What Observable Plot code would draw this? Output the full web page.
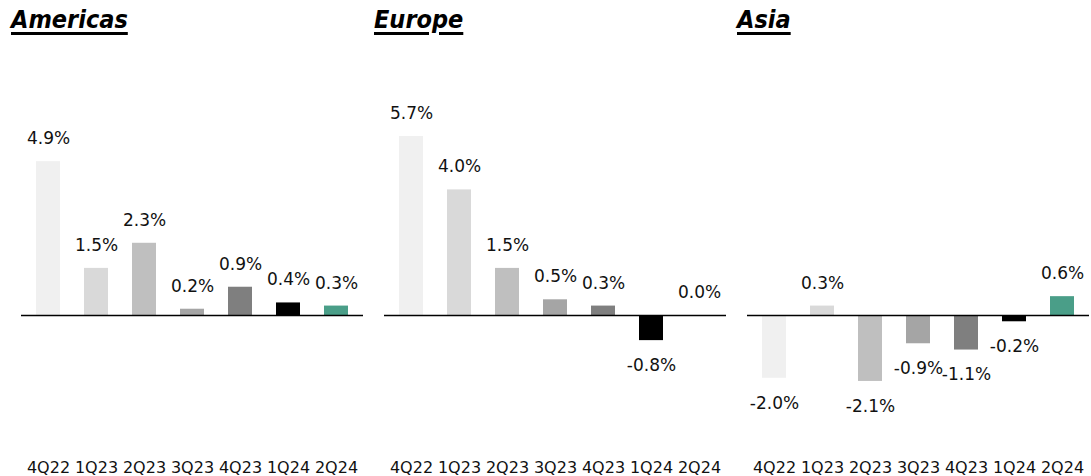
<!DOCTYPE html>
<html>
<head>
<meta charset="utf-8">
<script src="https://cdn.jsdelivr.net/npm/d3@7"></script>
<script src="https://cdn.jsdelivr.net/npm/@observablehq/plot@0.6"></script>
<style>
  html, body { margin: 0; padding: 0; background: #fff; }
  body { width: 1091px; height: 476px; overflow: hidden; font-family: "DejaVu Sans", sans-serif; }
  #wrap { display: flex; flex-direction: row; }
  .panel { width: 363px; flex: 0 0 363px; }
  .title { height: 44px; box-sizing: border-box; padding-top: 7px; padding-left: 11px; font-family: "DejaVu Sans Condensed", "DejaVu Sans", sans-serif; font-stretch: condensed; font-size: 25px; line-height: 25px; font-weight: bold; font-style: italic; text-decoration: underline; text-decoration-thickness: 3px; text-underline-offset: 4px; color: #000; }
  svg { display: block; overflow: visible; }
</style>
</head>
<body>
<div id="wrap"></div>
<script>
const quarters = ["4Q22","1Q23","2Q23","3Q23","4Q23","1Q24","2Q24"];
const regions = ["Americas","Europe","Asia"];
const americas = [4.9, 1.5, 2.3, 0.2, 0.9, 0.4, 0.3];
const europe = [5.7, 4.0, 1.5, 0.5, 0.3, -0.8, 0.0];
const asia = [-2.0, 0.3, -2.1, -0.9, -1.1, -0.2, 0.6];
const barColors = ["#f0f0f0","#d9d9d9","#bfbfbf","#a5a5a5","#7f7f7f","#000000","#4a9e88"];

const series = [americas, europe, asia];
const font = '"DejaVu Sans", sans-serif';
const wrap = document.getElementById("wrap");

regions.forEach((name, i) => {
  const data = quarters.map((q, j) => ({q, v: series[i][j]}));
  const panel = document.createElement("div");
  panel.className = "panel";
  const t = document.createElement("div");
  t.className = "title";
  t.textContent = name;
  panel.appendChild(t);
  const chart = Plot.plot({
    width: 363,
    height: 432,
    marginLeft: 21,
    marginRight: 0,
    marginTop: 0,
    marginBottom: 20,
    style: {fontFamily: font, background: "transparent", overflow: "visible"},
    x: {domain: quarters, paddingInner: 0.49, paddingOuter: 0.25, axis: null},
    y: {domain: [-4, 7.5], range: [396.6, 35.5], axis: null},
    color: {domain: quarters, range: barColors},
    marks: [
      Plot.barY(data, {x: "q", y: "v", fill: "q"}),
      Plot.ruleY([0], {stroke: "#000", strokeWidth: 1.6}),
      Plot.text(data.filter(d => d.v >= 0), {x: "q", y: "v", text: d => d.v.toFixed(1) + "%", dy: -23, fontSize: 17, fill: "#111", fontFamily: font}),
      Plot.text(data.filter(d => d.v < 0), {x: "q", y: "v", text: d => d.v.toFixed(1) + "%", dy: 25, fontSize: 17, fill: "#111", fontFamily: font}),
      Plot.axisX({anchor: "bottom", tickSize: 0, tickPadding: 5, fontSize: 16, fill: "#111", label: null, fontFamily: font})
    ]
  });
  panel.appendChild(chart);
  wrap.appendChild(panel);
});
</script>
</body>
</html>
